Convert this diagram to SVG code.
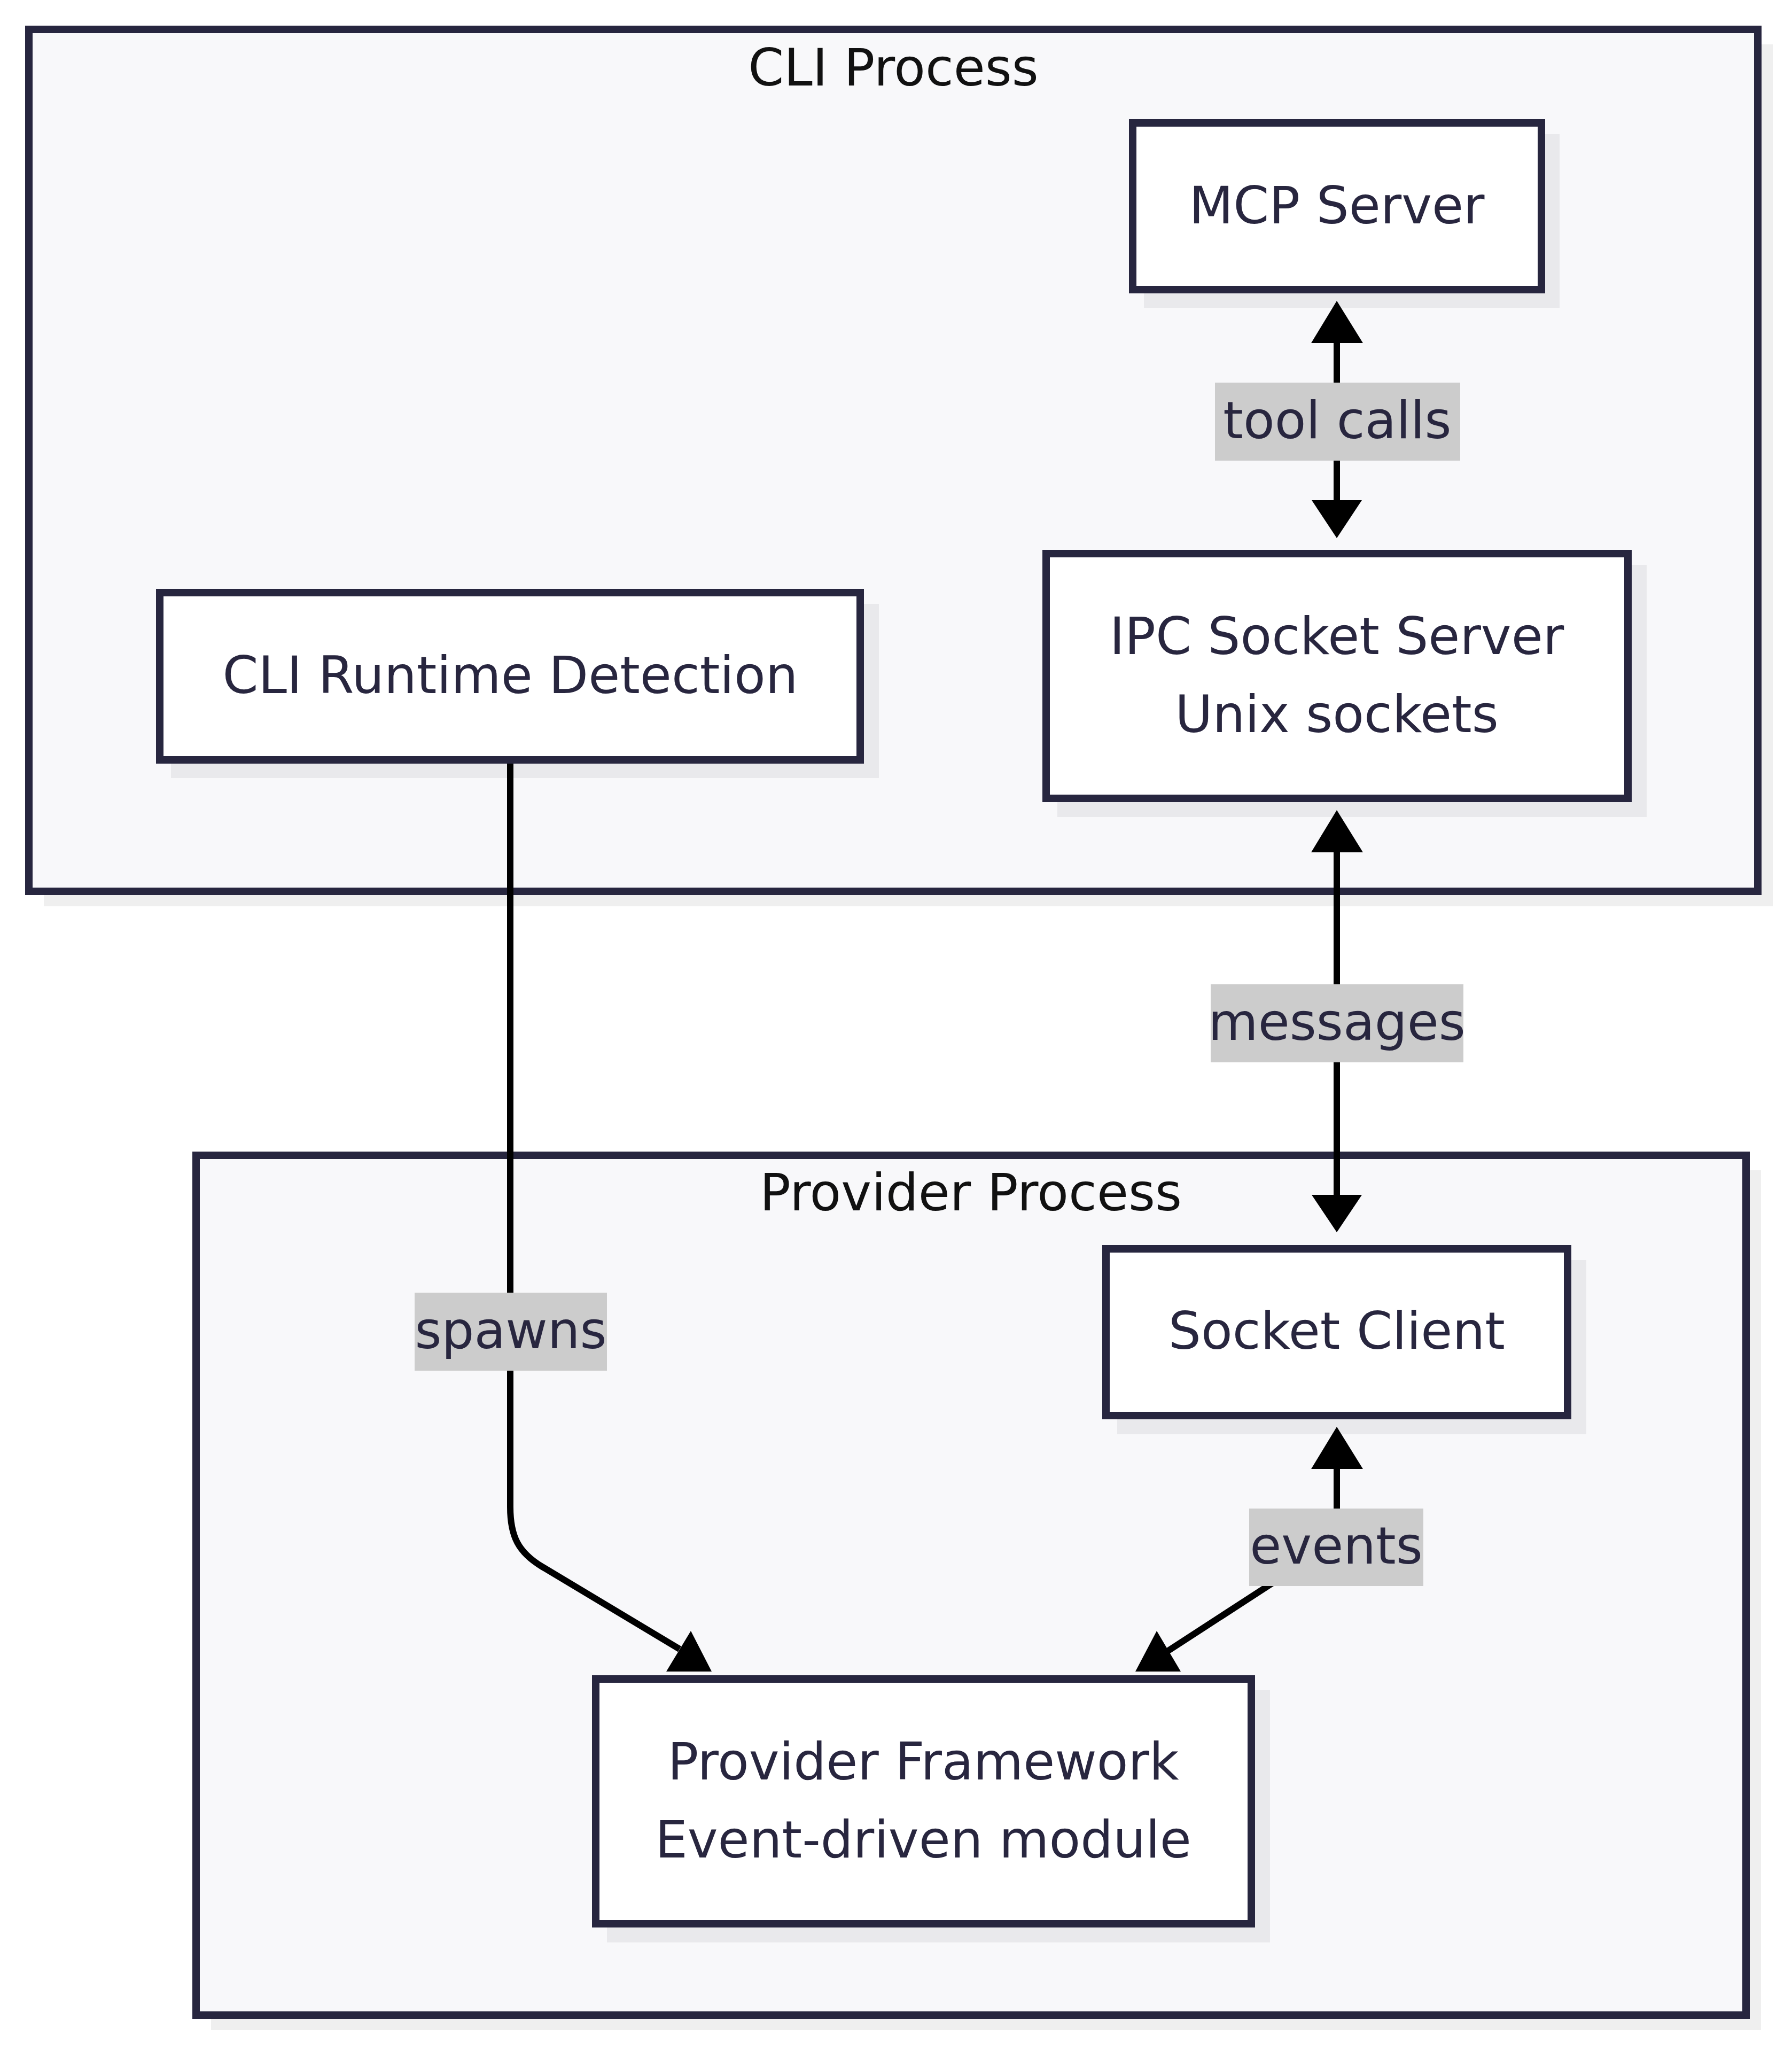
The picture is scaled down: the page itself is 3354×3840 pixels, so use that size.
<svg xmlns="http://www.w3.org/2000/svg" width="3354" height="3840" viewBox="0 0 3354 3840">
<style>
.bg{fill:#ffffff}
.cl{fill:#f8f8fa;stroke:#27263f;stroke-width:14}
.cls{fill:#efefef}
.nd{fill:#ffffff;stroke:#27263f;stroke-width:14}
.nds{fill:#e9e9ec}
.t{font-family:"DejaVu Sans",sans-serif;font-size:96px;fill:#28263f;text-anchor:middle}
.ct{font-family:"DejaVu Sans",sans-serif;font-size:96px;fill:#111111;text-anchor:middle}
.e{fill:none;stroke:#000000;stroke-width:12}
.ah{fill:#000000}
.lb{fill:#cccccc}
</style>
<rect class="bg" x="0" y="0" width="3354" height="3840"/>
<g id="cluster-cli">
<rect class="cls" x="82" y="83" width="3236" height="1613"/>
<rect class="cl" x="54" y="55" width="3236" height="1613"/>
<text class="ct" x="1672" y="160">CLI Process</text>
</g>
<g id="cluster-provider">
<rect class="cls" x="395" y="2190" width="2901" height="1609"/>
<rect class="cl" x="367" y="2162" width="2901" height="1609"/>
<text class="ct" x="1817" y="2265">Provider Process</text>
</g>
<g id="node-mcp">
<rect class="nds" x="2141" y="251" width="778" height="325"/>
<rect class="nd" x="2120" y="230" width="765" height="312"/>
<text class="t" x="2502" y="418">MCP Server</text>
</g>
<g id="node-cli-runtime">
<rect class="nds" x="320" y="1130" width="1325" height="326"/>
<rect class="nd" x="299" y="1109" width="1311" height="313"/>
<text class="t" x="955" y="1297">CLI Runtime Detection</text>
</g>
<g id="node-ipc">
<rect class="nds" x="1979" y="1057" width="1103" height="472"/>
<rect class="nd" x="1958" y="1036" width="1089" height="458"/>
<text class="t" x="2502" y="1224">IPC Socket Server</text>
<text class="t" x="2502" y="1370">Unix sockets</text>
</g>
<g id="node-socket-client">
<rect class="nds" x="2091" y="2358" width="878" height="326"/>
<rect class="nd" x="2070" y="2337" width="864" height="312"/>
<text class="t" x="2502" y="2524">Socket Client</text>
</g>
<g id="node-provider-framework">
<rect class="nds" x="1136" y="3163" width="1241" height="472"/>
<rect class="nd" x="1115" y="3142" width="1227" height="458"/>
<text class="t" x="1728" y="3330">Provider Framework</text>
<text class="t" x="1728" y="3476">Event-driven module</text>
</g>
<g id="connectors">
<path class="e" d="M2502 640 L2502 938"/>
<polygon class="ah" points="2502,563 2454,642 2551,642"/>
<polygon class="ah" points="2502,1007 2455,936 2549,936"/>
<path class="e" d="M2502 1593 L2502 2238"/>
<polygon class="ah" points="2502,1516 2454,1595 2551,1595"/>
<polygon class="ah" points="2502,2306 2455,2236 2549,2236"/>
<path class="e" d="M955 1429 L955 2820 C955 2875 970 2905 1015 2932 L1272 3086"/>
<polygon class="ah" points="1293,3052 1247,3128 1332,3128"/>
<path class="e" d="M2502 2747 L2502 2860 C2502 2880 2495 2890 2470 2905 L2182 3092"/>
<polygon class="ah" points="2502,2670 2454,2749 2551,2749"/>
<polygon class="ah" points="2165,3052 2125,3128 2210,3128"/>
</g>
<g id="edge-labels">
<rect class="lb" x="2274" y="716" width="459" height="146"/>
<text class="t" x="2503" y="820">tool calls</text>
<rect class="lb" x="2266" y="1842" width="473" height="146"/>
<text class="t" x="2502" y="1946">messages</text>
<rect class="lb" x="776" y="2419" width="360" height="146"/>
<text class="t" x="956" y="2523">spawns</text>
<rect class="lb" x="2338" y="2823" width="326" height="145"/>
<text class="t" x="2501" y="2926">events</text>
</g>
</svg>
